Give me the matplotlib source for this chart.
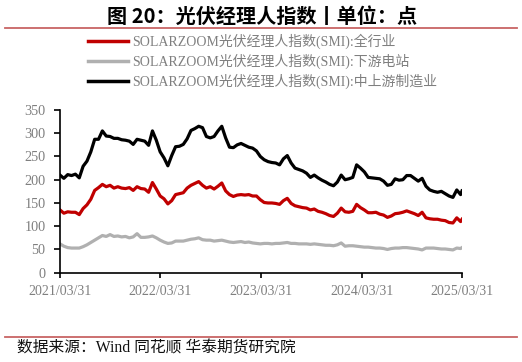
import matplotlib
matplotlib.use("Agg")
import matplotlib.pyplot as plt
import matplotlib.dates as mdates
import pandas as pd
from matplotlib.lines import Line2D

plt.rcParams['font.family'] = ['Liberation Serif', 'Noto Sans CJK SC']

# biweekly observations from 2021/03/31, plus the final 2025/03/31 reading
dates = list(pd.date_range('2021-03-31', periods=105, freq='14D')) + [pd.Timestamp('2025-03-31')]

smi_all = [135, 128, 131, 130, 130, 125, 138, 146, 158, 177,
           183, 190, 185, 188, 182, 185, 182, 181, 183, 177,
           185, 181, 180, 173, 194, 180, 165, 159, 148, 155,
           168, 170, 172, 182, 188, 192, 196, 188, 182, 185,
           180, 186, 193, 176, 168, 164, 167, 168, 167, 168,
           165, 165, 157, 151, 150, 150, 149, 147, 155, 160,
           149, 144, 142, 140, 139, 135, 137, 132, 130, 127,
           123, 121, 128, 139, 131, 130, 132, 147, 140, 135,
           129, 129, 130, 126, 124, 119, 122, 127, 128, 130,
           133, 130, 127, 123, 130, 118, 116, 115, 115, 113,
           112, 108, 107, 118, 110, 115]

smi_down = [62, 57, 54, 53, 53, 53, 56, 60, 65, 70,
            75, 80, 78, 82, 78, 79, 77, 78, 75, 77,
            84, 76, 76, 77, 79, 75, 70, 66, 63, 64,
            68, 68, 68, 70, 72, 73, 75, 71, 70, 70,
            68, 69, 70, 68, 66, 65, 66, 67, 65, 66,
            64, 63, 62, 63, 63, 62, 63, 63, 64, 65,
            63, 63, 62, 62, 62, 61, 62, 61, 60, 59,
            59, 58, 60, 64, 57, 58, 58, 57, 56, 55,
            55, 54, 53, 53, 52, 50, 52, 53, 53, 54,
            54, 53, 52, 51, 49, 53, 53, 53, 52, 51,
            51, 50, 49, 53, 52, 54]

smi_up = [210, 203, 211, 209, 212, 204, 229, 240, 260, 287,
          287, 305, 294, 293, 289, 289, 286, 285, 283, 276,
          287, 285, 283, 274, 305, 285, 260, 247, 230, 252,
          271, 272, 276, 288, 306, 310, 315, 312, 293, 290,
          293, 305, 315, 290, 270, 269, 275, 278, 274, 270,
          268, 262, 250, 243, 239, 237, 236, 232, 245, 252,
          236, 225, 222, 219, 214, 205, 210, 204, 199, 195,
          190, 187, 195, 210, 200, 202, 205, 232, 225, 217,
          205, 204, 203, 202, 197, 188, 190, 202, 199, 200,
          209, 209, 203, 197, 203, 186, 178, 175, 173, 175,
          170, 165, 162, 178, 168, 176]

labels = ['SOLARZOOM光伏经理人指数(SMI):全行业',
          'SOLARZOOM光伏经理人指数(SMI):下游电站',
          'SOLARZOOM光伏经理人指数(SMI):中上游制造业']
colors = ['#c00000', '#b0b0b0', '#000000']
yticks = [0, 50, 100, 150, 200, 250, 300, 350]
xticks = ['2021-03-31', '2022-03-31', '2023-03-31', '2024-03-31', '2025-03-31']

fig = plt.figure(figsize=(5.22, 3.62), dpi=100)
ax = fig.add_axes([60/522, 1-272.7/362, (462-60)/522, (272.7-110)/362])

for vals, c in zip([smi_all, smi_down, smi_up], colors):
    ax.plot(dates, vals, color=c, lw=2.3, solid_joinstyle='round')

ax.set_ylim(0, 350)
ax.set_yticks(yticks)
ax.set_xlim(pd.Timestamp(xticks[0]), pd.Timestamp(xticks[-1]))
ax.set_xticks([pd.Timestamp(t) for t in xticks])
ax.xaxis.set_major_formatter(mdates.DateFormatter('%Y/%m/%d'))
for s in ['top', 'right']:
    ax.spines[s].set_visible(False)
for s in ['left', 'bottom']:
    ax.spines[s].set_linewidth(1.2)
    ax.spines[s].set_color('black')
ax.tick_params(axis='y', direction='out', length=4.5, width=1.2, pad=6,
               labelsize=10.3, labelcolor='#7f7f7f')
ax.tick_params(axis='x', direction='out', length=3.5, width=1.2, pad=5,
               labelsize=10, labelcolor='#7f7f7f')

handles = [Line2D([], [], color=c, lw=2.5) for c in colors]
leg = fig.legend(handles, labels, loc='upper left', bbox_to_anchor=(88/522, 1-34/362),
                 frameon=False, fontsize=10, handlelength=2.9, handletextpad=0.3,
                 labelspacing=0.32, borderpad=0, borderaxespad=0)
for t in leg.get_texts():
    t.set_color('#7f7f7f')

fig.text(262/522, 1-16/362, '图 20：光伏经理人指数丨单位：点', ha='center', va='center',
         fontsize=14.5, fontweight='bold', family=['Noto Sans CJK SC', 'DejaVu Sans'])
fig.add_artist(Line2D([5/522, 517/522], [1-28.3/362, 1-28.3/362], color='#c86464', lw=1.3))
fig.add_artist(Line2D([5/522, 517/522], [1-337.3/362, 1-337.3/362], color='#c86464', lw=1.3))
fig.text(17/522, 1-348/362, '数据来源：Wind 同花顺 华泰期货研究院', ha='left', va='center',
         fontsize=11.3, color='#111111')

fig.savefig('out.png', dpi=100)
